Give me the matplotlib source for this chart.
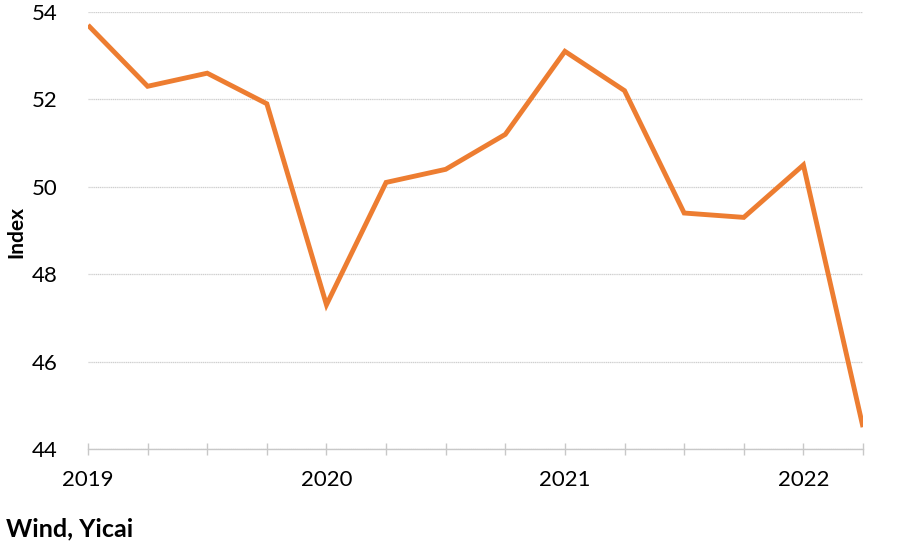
import matplotlib.pyplot as plt
import numpy as np

# quarterly index values, 2019Q1 .. 2022Q2
quarters = [2019.0, 2019.25, 2019.5, 2019.75,
            2020.0, 2020.25, 2020.5, 2020.75,
            2021.0, 2021.25, 2021.5, 2021.75,
            2022.0, 2022.25]
index_values = [53.7, 52.3, 52.6, 51.9,
                47.3, 50.1, 50.4, 51.2,
                53.1, 52.2, 49.4, 49.3,
                50.5, 44.5]
year_ticks = [2019, 2020, 2021, 2022]
y_ticks = [44, 46, 48, 50, 52, 54]

plt.rcParams['font.family'] = ['Lato', 'DejaVu Sans']

fig = plt.figure(figsize=(9.1, 5.45), dpi=100)
ax = fig.add_axes([88 / 910, 1 - 449 / 545, 775 / 910, 437 / 545])

ax.plot(quarters, index_values, color="#ED7D31", lw=3.5,
        solid_joinstyle="miter", solid_capstyle="butt", zorder=3)

ax.set_xlim(quarters[0], quarters[-1])
ax.set_ylim(44, 54)
ax.set_yticks(y_ticks)
ax.set_yticklabels([str(v) for v in y_ticks], fontsize=16)
ax.set_xticks(quarters, minor=True)
ax.set_xticks(year_ticks)
ax.set_xticklabels([str(v) for v in year_ticks], fontsize=16)

ax.yaxis.grid(True, color="#cfcfcf", lw=0.9, ls=(0, (1, 0.5)))
ax.tick_params(axis="y", length=0, pad=22)
ax.tick_params(axis="x", which="both", direction="inout", length=8,
               color="#c8c8c8", width=1, pad=11)

for s in ["top", "right", "left"]:
    ax.spines[s].set_visible(False)
ax.spines["bottom"].set_color("#c8c8c8")
ax.spines["bottom"].set_linewidth(1)

fig.text(16 / 910, 1 - 232 / 545, "Index", rotation=90, fontsize=15,
         fontweight="bold", ha="center", va="center")
fig.text(6 / 910, 1 - 529 / 545, "Wind, Yicai", fontsize=18,
         fontweight="bold", ha="left", va="center")

fig.savefig("out.png", dpi=100)
